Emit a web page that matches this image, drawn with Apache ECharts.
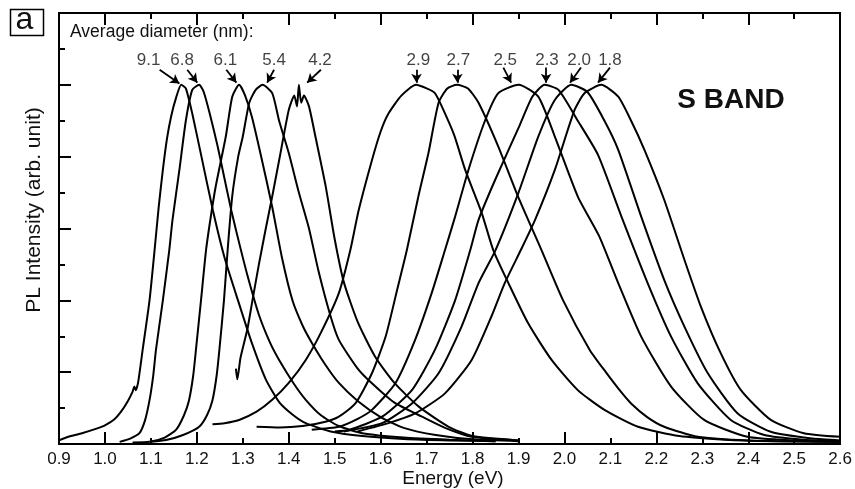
<!DOCTYPE html>
<html>
<head>
<meta charset="utf-8">
<script src="https://cdn.jsdelivr.net/npm/echarts@6/dist/echarts.min.js"></script>
<style>
html, body { margin: 0; padding: 0; background: #fff; }
#main { width: 855px; height: 489px; }
</style>
</head>
<body>
<div id="main"></div>
<script>
// average diameter (nm) of each sample, same order as the spectra below
const diameters = ["9.1", "6.8", "6.1", "5.4", "4.2", "2.9", "2.7", "2.5", "2.3", "2.0", "1.8"];

// PL spectra: [energy (eV), normalised intensity]
const pl91 = [[0.900,0.010],[0.920,0.020],[0.950,0.030],[0.980,0.042],[1.000,0.052],[1.020,0.068],[1.035,0.090],[1.050,0.120],[1.060,0.145],[1.064,0.160],[1.067,0.150],[1.072,0.170],[1.082,0.262],[1.097,0.400],[1.108,0.540],[1.117,0.660],[1.126,0.763],[1.135,0.850],[1.144,0.912],[1.155,0.965],[1.166,1.000],[1.176,0.990],[1.190,0.920],[1.210,0.800],[1.235,0.650],[1.260,0.520],[1.292,0.390],[1.320,0.280],[1.350,0.180],[1.380,0.115],[1.410,0.080],[1.437,0.058],[1.494,0.034],[1.560,0.022],[1.650,0.014],[1.750,0.010],[1.850,0.008]];
const pl68 = [[1.032,0.006],[1.055,0.015],[1.075,0.030],[1.087,0.065],[1.097,0.122],[1.105,0.190],[1.111,0.262],[1.126,0.400],[1.140,0.540],[1.147,0.624],[1.162,0.763],[1.176,0.900],[1.190,0.986],[1.205,1.000],[1.215,0.980],[1.230,0.910],[1.245,0.830],[1.260,0.740],[1.275,0.650],[1.292,0.560],[1.310,0.470],[1.335,0.360],[1.360,0.280],[1.379,0.234],[1.410,0.170],[1.437,0.123],[1.470,0.080],[1.509,0.050],[1.560,0.030],[1.650,0.018],[1.750,0.012],[1.850,0.008]];
const pl61 = [[1.060,0.004],[1.097,0.006],[1.130,0.018],[1.155,0.040],[1.172,0.080],[1.183,0.122],[1.192,0.190],[1.198,0.262],[1.209,0.400],[1.220,0.540],[1.230,0.630],[1.241,0.717],[1.263,0.856],[1.277,0.967],[1.292,1.000],[1.305,0.970],[1.320,0.910],[1.340,0.800],[1.364,0.660],[1.385,0.520],[1.408,0.400],[1.430,0.330],[1.451,0.280],[1.480,0.220],[1.509,0.170],[1.550,0.120],[1.600,0.075],[1.650,0.045],[1.720,0.025],[1.800,0.013],[1.900,0.008]];
const pl54 = [[1.100,0.006],[1.133,0.011],[1.170,0.025],[1.205,0.048],[1.222,0.080],[1.234,0.122],[1.243,0.190],[1.249,0.262],[1.259,0.400],[1.267,0.540],[1.277,0.690],[1.290,0.800],[1.300,0.856],[1.314,0.950],[1.328,0.986],[1.343,1.000],[1.364,0.977],[1.379,0.900],[1.400,0.810],[1.422,0.700],[1.444,0.600],[1.465,0.480],[1.490,0.360],[1.509,0.290],[1.550,0.210],[1.581,0.169],[1.630,0.115],[1.690,0.076],[1.740,0.045],[1.798,0.020],[1.900,0.010]];
const pl42 = [[1.285,0.210],[1.288,0.180],[1.295,0.240],[1.310,0.320],[1.321,0.400],[1.335,0.500],[1.350,0.600],[1.364,0.689],[1.382,0.810],[1.400,0.930],[1.412,0.970],[1.418,0.940],[1.422,1.000],[1.427,0.950],[1.433,0.970],[1.444,0.940],[1.458,0.856],[1.480,0.720],[1.500,0.570],[1.520,0.450],[1.550,0.340],[1.588,0.243],[1.630,0.170],[1.683,0.104],[1.748,0.048],[1.800,0.022],[1.900,0.010]];
const pl29 = [[1.234,0.055],[1.260,0.058],[1.292,0.067],[1.330,0.090],[1.364,0.123],[1.400,0.170],[1.437,0.234],[1.470,0.310],[1.509,0.420],[1.534,0.540],[1.552,0.650],[1.581,0.790],[1.600,0.870],[1.617,0.920],[1.645,0.970],[1.677,1.000],[1.700,0.990],[1.718,0.977],[1.733,0.940],[1.760,0.860],[1.784,0.763],[1.820,0.643],[1.845,0.540],[1.878,0.448],[1.921,0.336],[1.972,0.234],[2.029,0.150],[2.087,0.095],[2.160,0.048],[2.250,0.022],[2.350,0.012],[2.450,0.008],[2.600,0.006]];
const pl27 = [[1.330,0.048],[1.380,0.046],[1.430,0.050],[1.480,0.062],[1.509,0.076],[1.545,0.113],[1.581,0.197],[1.611,0.300],[1.636,0.430],[1.657,0.540],[1.682,0.689],[1.704,0.810],[1.726,0.950],[1.745,0.990],[1.766,1.000],[1.790,0.990],[1.813,0.950],[1.856,0.828],[1.899,0.689],[1.950,0.540],[1.997,0.400],[2.055,0.262],[2.090,0.200],[2.120,0.150],[2.145,0.113],[2.180,0.075],[2.217,0.048],[2.290,0.020],[2.400,0.010],[2.600,0.006]];
const pl25 = [[1.450,0.040],[1.509,0.048],[1.550,0.070],[1.581,0.095],[1.632,0.169],[1.675,0.290],[1.711,0.420],[1.740,0.540],[1.762,0.633],[1.791,0.763],[1.827,0.900],[1.856,0.977],[1.900,1.000],[1.943,0.967],[1.979,0.856],[2.029,0.689],[2.075,0.580],[2.117,0.448],[2.167,0.299],[2.232,0.160],[2.304,0.067],[2.398,0.020],[2.500,0.010],[2.600,0.007]];
const pl23 = [[1.500,0.035],[1.531,0.039],[1.603,0.076],[1.668,0.150],[1.718,0.262],[1.762,0.400],[1.795,0.540],[1.813,0.624],[1.849,0.735],[1.900,0.880],[1.930,0.967],[1.957,1.000],[1.987,0.986],[2.029,0.900],[2.073,0.805],[2.124,0.633],[2.181,0.448],[2.232,0.299],[2.290,0.169],[2.362,0.067],[2.435,0.025],[2.520,0.012],[2.600,0.008]];
const pl20 = [[1.520,0.035],[1.603,0.058],[1.668,0.113],[1.726,0.197],[1.776,0.327],[1.813,0.448],[1.850,0.540],[1.900,0.700],[1.943,0.856],[1.979,0.958],[2.015,1.000],[2.050,0.980],[2.087,0.900],[2.117,0.819],[2.167,0.633],[2.217,0.457],[2.261,0.327],[2.312,0.197],[2.377,0.085],[2.449,0.034],[2.540,0.015],[2.600,0.010]];
const pl18 = [[1.550,0.035],[1.617,0.058],[1.675,0.085],[1.740,0.141],[1.798,0.234],[1.841,0.355],[1.870,0.448],[1.905,0.540],[1.936,0.624],[1.979,0.763],[2.022,0.930],[2.044,0.977],[2.080,1.000],[2.117,0.967],[2.145,0.900],[2.174,0.819],[2.217,0.680],[2.261,0.513],[2.297,0.382],[2.340,0.253],[2.384,0.150],[2.449,0.067],[2.521,0.030],[2.600,0.020]];
const spectra = [pl91, pl68, pl61, pl54, pl42, pl29, pl27, pl25, pl23, pl20, pl18];

// diameter labels and arrows, in data units (energy, intensity)
const labelEnergy = [1.095, 1.168, 1.262, 1.368, 1.468, 1.682, 1.769, 1.871, 1.962, 2.032, 2.099];
const labelLevel = 1.067;
const arrowFrom = [[1.119,1.042],[1.179,1.042],[1.264,1.042],[1.368,1.042],[1.470,1.042],[1.678,1.042],[1.767,1.042],[1.867,1.048],[1.960,1.048],[2.036,1.048],[2.099,1.048]];
const arrowTo = [[1.162,1.004],[1.201,1.006],[1.286,1.006],[1.353,1.006],[1.440,1.006],[1.678,1.006],[1.767,1.006],[1.884,1.006],[1.960,1.006],[2.012,1.006],[2.073,1.006]];

// axis ticks
const xMin = 0.9, xMax = 2.6, yMin = 0, yMax = 1.2;
const xLongTicks = [1.0, 1.2, 1.4, 1.6, 1.8, 2.0, 2.2, 2.4, 2.6];
const yLongTicks = [0.2, 0.4, 0.6, 0.8, 1.0];

const chart = echarts.init(document.getElementById("main"));
const font = "'Liberation Sans', Arial, Helvetica, sans-serif";

function xAxisCfg(pos, long, withLine, withLabel) {
  return {
    type: "value",
    position: pos,
    min: xMin,
    max: xMax,
    interval: 0.1,
    axisLine: { show: withLine, onZero: false, lineStyle: { color: "#000", width: 2 } },
    axisTick: long
      ? { show: true, inside: true, length: 12, customValues: xLongTicks, lineStyle: { color: "#000", width: 2 } }
      : { show: true, inside: true, length: 6, lineStyle: { color: "#000", width: 2 } },
    axisLabel: {
      show: withLabel,
      color: "#111",
      fontSize: 17,
      fontFamily: font,
      margin: 7,
      formatter: (v) => v.toFixed(1),
    },
    splitLine: { show: false },
  };
}

function yAxisCfg(pos, long, withLine, withTicks) {
  return {
    type: "value",
    position: pos,
    min: yMin,
    max: yMax,
    interval: 0.1,
    axisLine: { show: withLine, onZero: false, lineStyle: { color: "#000", width: 2 } },
    axisTick: !withTicks
      ? { show: false }
      : long
      ? { show: true, inside: true, length: 12, customValues: yLongTicks, lineStyle: { color: "#000", width: 2 } }
      : { show: true, inside: true, length: 6, lineStyle: { color: "#000", width: 2 } },
    axisLabel: { show: false },
    splitLine: { show: false },
  };
}

const series = spectra.map((d, i) => ({
  name: diameters[i],
  type: "line",
  data: d,
  xAxisIndex: 0,
  yAxisIndex: 0,
  showSymbol: false,
  smooth: 0.2,
  lineStyle: { color: "#000", width: 2 },
  silent: true,
  z: 3,
}));

// arrows pointing to the peaks
series.push({
  type: "line",
  data: [],
  xAxisIndex: 0,
  yAxisIndex: 0,
  silent: true,
  markLine: {
    silent: true,
    symbol: ["none", "arrow"],
    symbolSize: [8, 9],
    label: { show: false },
    lineStyle: { color: "#000", width: 1.8, type: "solid" },
    data: arrowFrom.map((p, i) => [{ coord: p }, { coord: arrowTo[i] }]),
    animation: false,
  },
});

// diameter numbers above the arrows
series.push({
  type: "scatter",
  xAxisIndex: 0,
  yAxisIndex: 0,
  symbolSize: 1,
  itemStyle: { color: "rgba(0,0,0,0)" },
  silent: true,
  data: labelEnergy.map((e, i) => ({ value: [e, labelLevel], name: diameters[i] })),
  label: {
    show: true,
    position: "inside",
    formatter: "{b}",
    color: "#111",
    fontSize: 17,
    fontFamily: font,
  },
});

chart.setOption({
  animation: false,
  backgroundColor: "#fff",
  textStyle: { fontFamily: font },
  grid: { left: 59, right: 12, top: 13, bottom: 45, containLabel: false },
  xAxis: [
    xAxisCfg("bottom", false, true, true),
    xAxisCfg("bottom", true, false, false),
    xAxisCfg("top", false, true, false),
    xAxisCfg("top", true, false, false),
  ],
  yAxis: [
    yAxisCfg("left", false, true, true),
    yAxisCfg("left", true, false, true),
    yAxisCfg("right", false, true, false),
  ],
  graphic: [
    { type: "rect", left: 8, top: 7, shape: { width: 33, height: 26 }, style: { fill: "none", stroke: "#000", lineWidth: 1.5 } },
    { type: "text", x: 24.5, y: 20, style: { text: "a", fontSize: 32, fontFamily: font, fill: "#111", align: "center", verticalAlign: "middle" } },
    { type: "text", x: 70, y: 32, style: { text: "Average diameter (nm):", fontSize: 17.5, fontFamily: font, fill: "#111", verticalAlign: "middle" } },
    { type: "text", x: 731, y: 100, style: { text: "S BAND", fontSize: 28, fontWeight: "bold", fontFamily: font, fill: "#111", align: "center", verticalAlign: "middle" } },
    { type: "text", x: 453, y: 479, style: { text: "Energy (eV)", fontSize: 19, fontFamily: font, fill: "#111", align: "center", verticalAlign: "middle" } },
    { type: "text", x: 34, y: 210, rotation: Math.PI / 2, style: { text: "PL Intensity (arb. unit)", fontSize: 21, fontFamily: font, fill: "#111", align: "center", verticalAlign: "middle" } },
  ],
  series: series,
});
</script>
</body>
</html>
